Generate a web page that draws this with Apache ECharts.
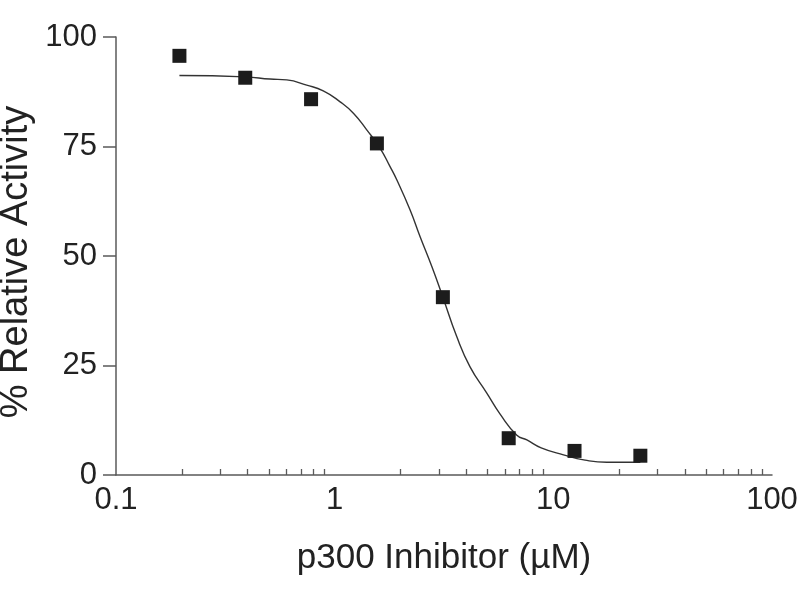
<!DOCTYPE html>
<html>
<head>
<meta charset="utf-8">
<title>p300 Inhibitor dose response</title>
<script src="https://cdn.jsdelivr.net/npm/echarts/dist/echarts.min.js"></script>
<style>
    html, body { margin: 0; padding: 0; background: #fff; }
    #chart { width: 800px; height: 600px; }
</style>
</head>
<body>
<div id="chart"></div>
<script>
// measured points (concentration in uM, % activity)
var doses = [0.195, 0.39, 0.78, 1.56, 3.125, 6.25, 12.5, 25];
var activity = [95.7, 90.7, 85.8, 75.7, 40.6, 8.4, 5.5, 4.4];

// fitted curve
var fitX = [0.195, 0.39, 0.506, 0.604, 0.745, 0.887, 1.059, 1.218, 1.402, 1.614, 1.792, 1.923,
            2.213, 2.459, 2.782, 3.125, 3.616, 4.16, 4.963, 5.71, 6.81, 7.57, 8.8, 11.13, 13.97, 17.57, 25];
var fitY = [91.2, 90.9, 90.4, 90.2, 89.0, 87.7, 85.2, 82.6, 78.8, 74.6, 70.4, 67.4,
            60.5, 54.4, 47.6, 40.6, 31.6, 24.7, 18.7, 13.9, 9.1, 8.0, 6.2, 4.6, 3.4, 2.9, 2.9];

// axis ticks
var xLabels = [0.1, 1, 10, 100];
var xMinorTicks = [0.2, 0.3, 0.4, 0.5, 0.6, 0.7, 0.8, 0.9,
                   2, 3, 4, 5, 6, 7, 8, 9,
                   20, 30, 40, 50, 60, 70, 80, 90];
var yTicks = [0, 25, 50, 75, 100];

var axisColor = '#5a5a5a';
var textColor = '#222222';
var font = 'Liberation Sans, Arial, sans-serif';

var pointData = [];
for (var i = 0; i < doses.length; i++) {
    pointData.push([doses[i], activity[i]]);
}
var fitData = [];
for (var k = 0; k < fitX.length; k++) {
    fitData.push([fitX[k], fitY[k]]);
}

var chart = echarts.init(document.getElementById('chart'));

var option = {
    backgroundColor: '#ffffff',
    animation: false,
    grid: { left: 116, right: 28, top: 37, bottom: 125, outerBoundsMode: 'none' },
    // y axis title, placed by hand so it sits against the left edge like the original
    graphic: [
        {
            type: 'text',
            x: 17,
            y: 262,
            rotation: Math.PI / 2,
            style: {
                text: '% Relative Activity',
                fill: textColor,
                font: '38px ' + font,
                textAlign: 'center',
                textVerticalAlign: 'middle'
            }
        }
    ],
    xAxis: {
        type: 'log',
        logBase: 10,
        min: 0.1,
        max: 100,
        name: 'p300 Inhibitor (\u00b5M)',
        nameLocation: 'middle',
        nameGap: 66,
        nameMoveOverlap: false,
        nameTextStyle: { color: textColor, fontSize: 35, fontFamily: font },
        axisLine: { onZero: false, lineStyle: { color: axisColor, width: 1.5 } },
        axisTick: {
            inside: true,
            length: 6,
            customValues: xMinorTicks,
            lineStyle: { color: axisColor, width: 1.3 }
        },
        axisLabel: {
            customValues: xLabels,
            margin: 10,
            color: textColor,
            fontSize: 31,
            fontFamily: font,
            formatter: function (value) {
                return String(value);
            }
        },
        splitLine: { show: false },
        minorTick: { show: false }
    },
    yAxis: {
        type: 'value',
        min: 0,
        max: 100,
        interval: 25,
        axisLine: { show: true, onZero: false, lineStyle: { color: axisColor, width: 1.5 } },
        axisTick: {
            show: true,
            length: 13,
            customValues: yTicks,
            lineStyle: { color: axisColor, width: 1.5 }
        },
        axisLabel: {
            customValues: yTicks,
            margin: 19,
            color: textColor,
            fontSize: 31,
            fontFamily: font
        },
        splitLine: { show: false }
    },
    series: [
        {
            name: 'fit',
            type: 'line',
            data: fitData,
            smooth: 0.5,
            showSymbol: false,
            lineStyle: { color: '#333333', width: 1.4 },
            z: 2
        },
        {
            name: 'activity',
            type: 'scatter',
            data: pointData,
            symbol: 'rect',
            symbolSize: 14,
            itemStyle: { color: '#1c1c1c', opacity: 1 },
            z: 3
        }
    ]
};

chart.setOption(option);
</script>
</body>
</html>
